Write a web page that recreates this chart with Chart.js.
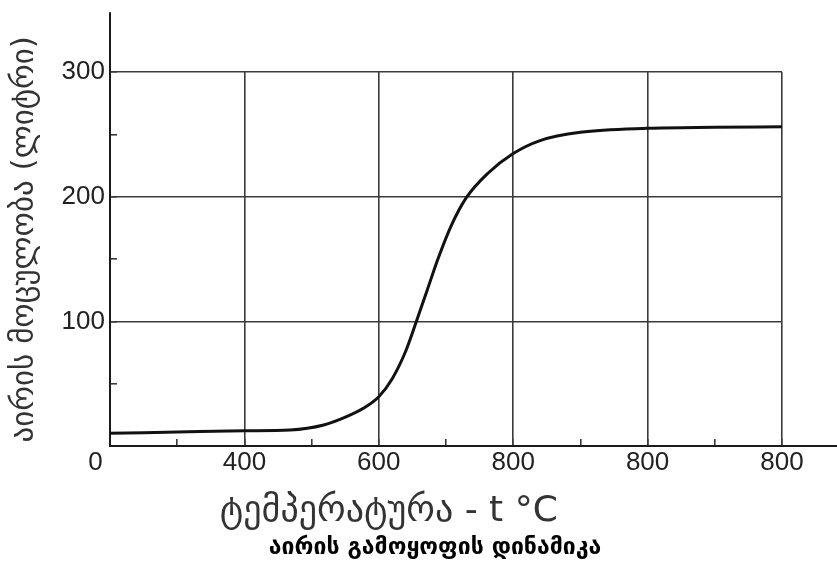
<!DOCTYPE html>
<html lang="ka">
<head>
<meta charset="utf-8">
<title>აირის გამოყოფის დინამიკა</title>
<script src="https://cdn.jsdelivr.net/npm/chart.js@4.4.1/dist/chart.umd.min.js"></script>
<style>
  html, body { margin: 0; padding: 0; background: #ffffff; }
  #wrap { width: 837px; height: 570px; }
</style>
</head>
<body>
<div id="wrap"><canvas id="gasChart" width="837" height="570"></canvas></div>
<script>
// Position along the temperature axis, in grid cells (one cell per labelled division)
const xPositions = [0, 0.5, 1.0, 1.34, 1.59, 1.76, 1.885, 2.0, 2.1, 2.2, 2.28, 2.36, 2.44, 2.54, 2.65, 2.81, 3.0, 3.2, 3.5, 4.0, 4.5, 5.0];
// Released gas volume, litres
const gasVolume = [10.2, 11.2, 12.2, 12.8, 16.8, 23.5, 30.2, 39.5, 54, 76, 100, 125, 150, 177, 199, 218.6, 234.6, 245, 251.6, 254.8, 255.6, 256];
// Labels printed under the vertical grid lines
const xTickLabels = ['0', '400', '600', '800', '800', '800'];
// Labelled values on the volume axis
const yTickLabels = [100, 200, 300];

const xTitle = 'ტემპერატურა - t °C';
const yTitle = 'აირის მოცულობა (ლიტრი)';
const chartTitle = 'აირის გამოყოფის დინამიკა';

const ink = '#1a1a1a';
const gridInk = '#3a3a3a';
const yAxisReach = 348; // the vertical axis line runs a little above the last grid line

// Lengthens the axis lines past the grid: the value axis upward, the temperature axis to the right edge
const axisExtension = {
  id: 'axisExtension',
  afterDraw(chart) {
    const { ctx, chartArea, scales } = chart;
    ctx.save();
    ctx.strokeStyle = ink;
    ctx.lineWidth = 2;
    ctx.beginPath();
    const topY = scales.y.getPixelForValue(yAxisReach);
    ctx.moveTo(chartArea.left, chartArea.top + 1);
    ctx.lineTo(chartArea.left, topY);
    ctx.moveTo(chartArea.right - 1, chartArea.bottom);
    ctx.lineTo(chart.width, chartArea.bottom);
    ctx.stroke();
    ctx.restore();
  }
};

const points = xPositions.map((x, i) => ({ x, y: gasVolume[i] }));

new Chart(document.getElementById('gasChart'), {
  type: 'line',
  data: {
    datasets: [{
      data: points,
      borderColor: '#111111',
      borderWidth: 3,
      pointRadius: 0,
      fill: false,
      cubicInterpolationMode: 'monotone'
    }]
  },
  plugins: [axisExtension],
  options: {
    responsive: false,
    animation: false,
    layout: { padding: { left: 0, top: 72, right: 55, bottom: 2 } },
    plugins: {
      legend: { display: false },
      tooltip: { enabled: false },
      title: {
        display: true,
        position: 'bottom',
        // leading blanks push the centred caption a little to the right
        text: '           ' + chartTitle,
        color: '#000000',
        font: { family: 'DejaVu Sans', size: 23, weight: 'bold' },
        padding: { top: 0, bottom: 6 }
      }
    },
    scales: {
      x: {
        type: 'linear',
        min: 0,
        max: xTickLabels.length - 1,
        afterFit(scale) { scale.height = 88.4; },
        border: { display: true, color: ink, width: 2 },
        grid: {
          color: c => (Number.isInteger(c.tick.value) ? gridInk : 'rgba(0,0,0,0)'),
          lineWidth: 1.6,
          tickColor: gridInk,
          tickLength: -7,
          tickWidth: 1.6
        },
        ticks: {
          stepSize: 0.5,
          autoSkip: false,
          maxRotation: 0,
          padding: 8,
          color: '#222222',
          font: { family: 'Liberation Sans', size: 26 },
          // the origin label sits just left of the corner
          callback: v => (Number.isInteger(v) ? (v === 0 ? xTickLabels[v] + '    ' : xTickLabels[v]) : '')
        },
        title: {
          display: true,
          // trailing blanks pull the centred caption toward the left
          text: xTitle + '          ',
          color: '#333333',
          font: { family: 'DejaVu Sans', size: 36 },
          padding: { top: 0, bottom: 1 }
        }
      },
      y: {
        type: 'linear',
        min: 0,
        max: 300,
        afterFit(scale) { scale.width = 110; },
        border: { display: true, color: ink, width: 2 },
        grid: {
          color: c => (yTickLabels.includes(c.tick.value) ? gridInk : 'rgba(0,0,0,0)'),
          lineWidth: 1.6,
          tickColor: gridInk,
          tickLength: -7,
          tickWidth: 1.6
        },
        ticks: {
          stepSize: 50,
          padding: 12,
          color: '#222222',
          font: { family: 'Liberation Sans', size: 26 },
          callback: v => (yTickLabels.includes(v) ? String(v) : '')
        },
        title: {
          display: true,
          // leading blanks lift the rotated caption slightly
          text: '    ' + yTitle,
          color: '#333333',
          font: { family: 'DejaVu Sans', size: 31 },
          padding: { top: 6, bottom: 0 }
        }
      }
    }
  }
});
</script>
</body>
</html>
